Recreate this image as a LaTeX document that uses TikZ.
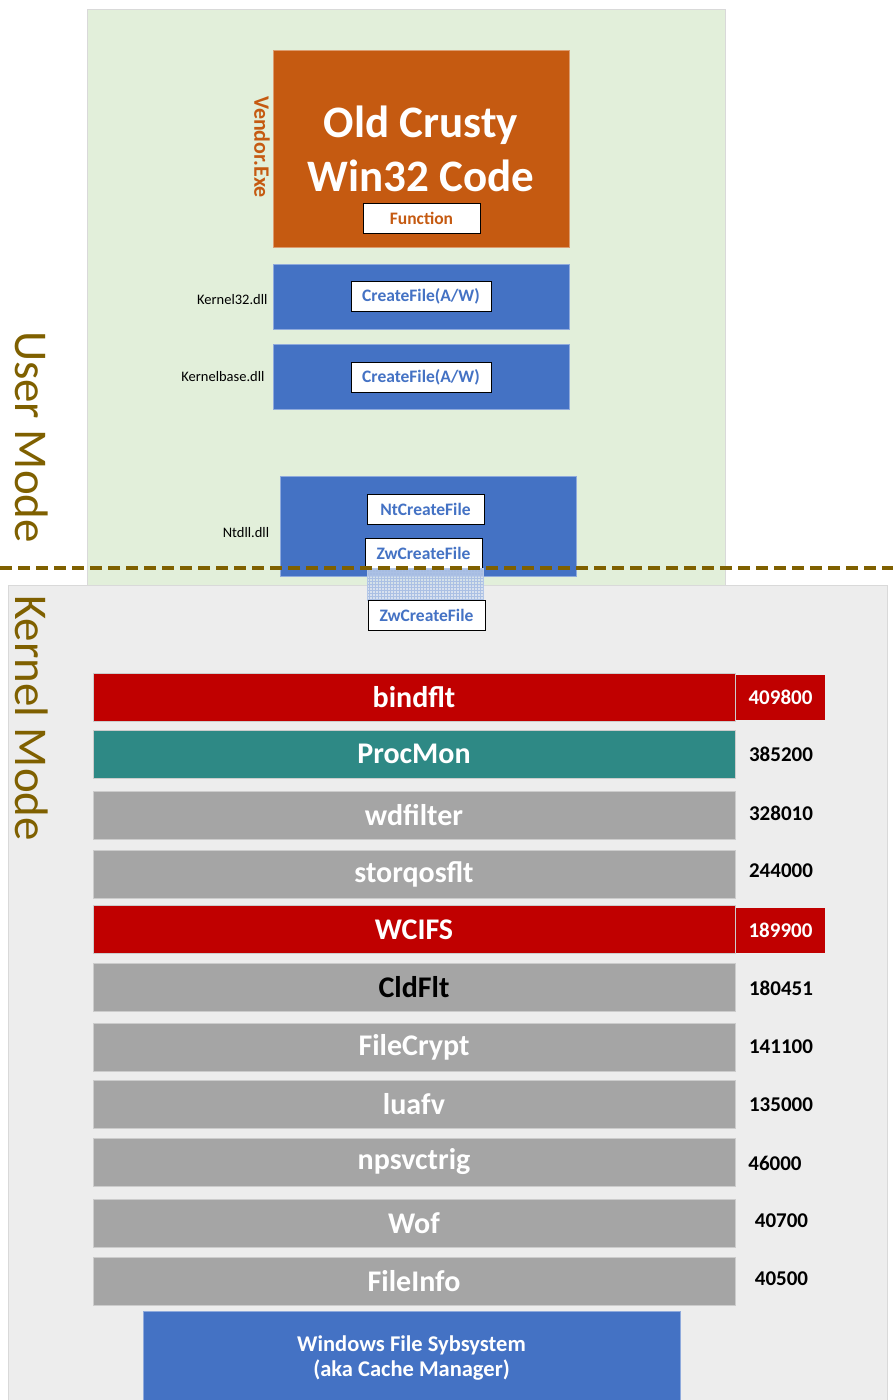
\documentclass[tikz,border=0pt]{standalone}
\usepackage{fontspec}
\setmainfont{Carlito}
\usetikzlibrary{positioning,patterns}

\definecolor{userbg}{HTML}{E2EFDA}
\definecolor{kernbg}{HTML}{EDEDED}
\definecolor{crusty}{HTML}{C55A11}
\definecolor{dllblue}{HTML}{4472C4}
\definecolor{hotred}{HTML}{C00000}
\definecolor{monteal}{HTML}{2E8985}
\definecolor{fltgrey}{HTML}{A5A5A5}
\definecolor{modeolive}{HTML}{7F6000}

\newcommand{\fs}[1]{\fontsize{#1}{1.15\dimexpr#1pt\relax}\selectfont}

\tikzset{
  panel/.style={draw=black!15, line width=0.8pt, anchor=north west, inner sep=0pt},
  dllbox/.style={fill=dllblue, draw=dllblue!60, line width=0.8pt, inner sep=0pt},
  callbox/.style={fill=white, draw=black, line width=0.8pt, inner sep=0pt,
    minimum height=30pt, text=dllblue, font=\bfseries\fs{17.5}},
  dlllabel/.style={font=\fs{14.5}, text=black},
  modetext/.style={text=modeolive, font=\fs{47}, rotate=-90},
  fltbar/.style={draw=black!20, line width=0.8pt, inner sep=0pt,
    minimum width=642pt, minimum height=48pt, font=\bfseries\fs{30}},
  altnum/.style={font=\bfseries\fs{21}, text=black},
  hotnum/.style={fill=hotred, inner sep=0pt, minimum width=89pt, minimum height=45pt,
    font=\bfseries\fs{21}, text=white}
}

\begin{document}
\begin{tikzpicture}[x=1pt, y=-1pt]
  \useasboundingbox (0,0) rectangle (893,1400);

  % the two worlds
  \node[panel, fill=userbg, minimum width=638pt, minimum height=576pt] (user) at (87,9) {};
  \node[panel, fill=kernbg, minimum width=879pt, minimum height=820pt] (kern) at (8,585) {};
  \node[modetext] (umode) at (32,437) {User Mode};
  \node[modetext] (kmode) at (32,718) {Kernel Mode};

  % vendor exe
  \node[fill=crusty, draw=crusty!60, inner sep=0pt, minimum width=296pt, minimum height=197pt] (vendor) at (421,148.5) {};
  \node[text=white, font=\bfseries\fs{45}, align=center] (crusty) at (421,149) {Old Crusty\\[2pt]Win32 Code};
  \node[callbox, text=crusty, minimum width=117pt] (func) at (421.5,218.5) {Function};
  \node[text=crusty, font=\bfseries\fs{22}, rotate=-90] (exe) at (262,147) {Vendor.Exe};

  % user mode dlls
  \node[dllbox, minimum width=296pt, minimum height=65pt] (k32) at (421,296.5) {};
  \node[callbox, minimum width=140pt] (k32call) at (421,296.5) {CreateFile(A/W)};
  \node[dlllabel, anchor=east] (k32lbl) at (271,300) {Kernel32.dll};

  \node[dllbox, minimum width=296pt, minimum height=65pt] (kbase) at (421,376.5) {};
  \node[callbox, minimum width=140pt] (kbasecall) at (421,377) {CreateFile(A/W)};
  \node[dlllabel, anchor=east] (kbaselbl) at (268,377) {Kernelbase.dll};

  \node[dllbox, minimum width=296pt, minimum height=100pt] (ntdll) at (428,526) {};
  \node[callbox, minimum width=117pt] (ntcall) at (425.5,509.5) {NtCreateFile};
  \node[callbox, minimum width=117pt] (zwuser) at (423.5,553.5) {ZwCreateFile};
  \node[dlllabel] (ntlbl) at (246,533) {Ntdll.dll};

  % syscall crossing
  \fill[dllblue!25, opacity=0.7] (367,568) rectangle (483,600);
  \fill[pattern=grid, pattern color=dllblue!45] (367,568) rectangle (483,600);
  \draw[dllblue!40, line width=0.6pt] (367,568) rectangle (483,600);
  \node[callbox, minimum width=117pt] (zwkern) at (426.5,615.5) {ZwCreateFile};

  % user / kernel boundary
  \coordinate (lineL) at (0,568);
  \coordinate (lineR) at (893,568);
  \draw[modeolive, line width=4pt, dash pattern=on 12pt off 6pt] (lineL) -- (lineR);

  % minifilter stack
  \foreach \y/\nm/\fillc/\txtc in {697/bindflt/hotred/white, 754/ProcMon/monteal/white,
      815.5/wdfilter/fltgrey/white, 874/storqosflt/fltgrey/white, 929.5/WCIFS/hotred/white,
      987.5/CldFlt/fltgrey/black, 1047/FileCrypt/fltgrey/white, 1104/luafv/fltgrey/white,
      1162/npsvctrig/fltgrey/white, 1223/Wof/fltgrey/white, 1281.5/FileInfo/fltgrey/white}
    \node[fltbar, fill=\fillc, text=\txtc] (\nm) at (414,\y) {\nm};

  % altitudes
  \node[hotnum] (altbind) at (780.5,697.5) {409800};
  \node[altnum] (altproc) at (781,754) {385200};
  \node[altnum] (altwd) at (781,813) {328010};
  \node[altnum] (altstor) at (781,871) {244000};
  \node[hotnum] (altwcifs) at (780.5,930) {189900};
  \node[altnum] (altcld) at (781,988) {180451};
  \node[altnum] (altcrypt) at (781,1047) {141100};
  \node[altnum] (altluafv) at (781,1105) {135000};
  \node[altnum] (altnps) at (775,1163) {46000};
  \node[altnum] (altwof) at (781.5,1221) {40700};
  \node[altnum] (altinfo) at (781.5,1279) {40500};

  % file system
  \node[dllbox, anchor=north west, minimum width=537pt, minimum height=92pt] (fsys) at (143,1311) {};
  \node[text=white, font=\bfseries\fs{22.5}, align=center] (fsyslbl) at (411.5,1358) {Windows File Sybsystem\\(aka Cache Manager)};
\end{tikzpicture}
\end{document}
